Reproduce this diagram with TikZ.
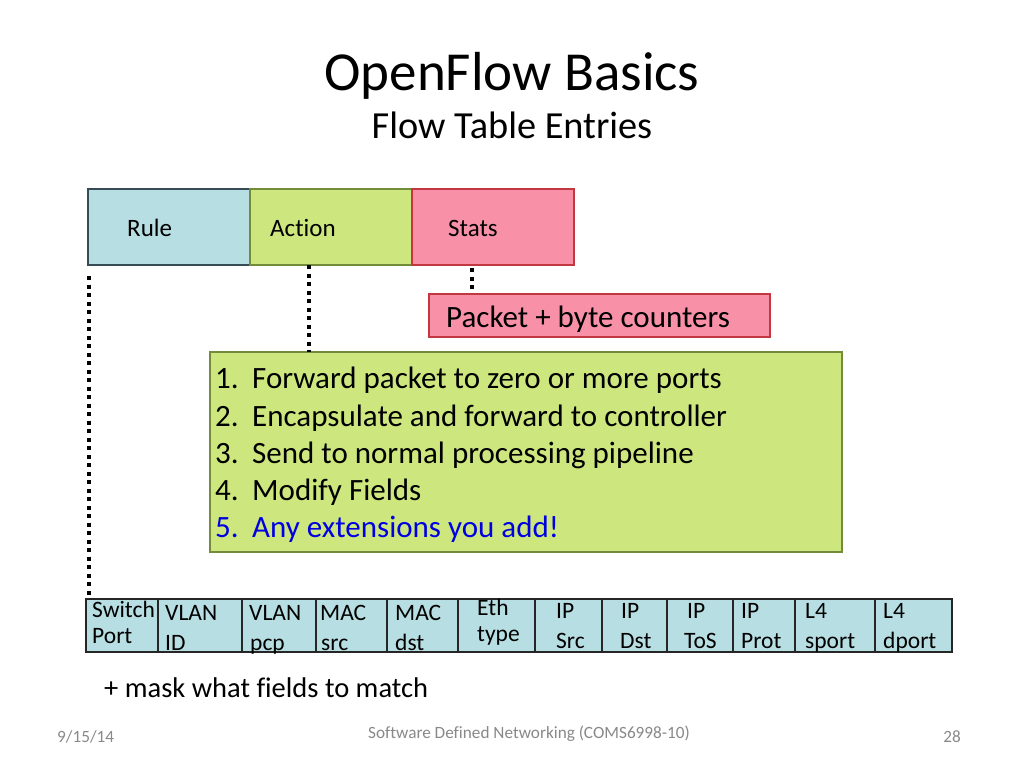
\documentclass[tikz,border=0pt]{standalone}
\usepackage{fontspec}
\setmainfont[Ligatures=NoCommon]{Carlito}
\definecolor{ruleblue}{RGB}{183,222,226}
\definecolor{rulebord}{RGB}{55,75,85}
\definecolor{actgreen}{RGB}{205,231,126}
\definecolor{actbord}{RGB}{115,140,60}
\definecolor{statpink}{RGB}{248,145,168}
\definecolor{statbord}{RGB}{195,55,65}
\definecolor{extblue}{RGB}{0,0,225}
\definecolor{footgray}{RGB}{137,137,137}
\begin{document}
\begin{tikzpicture}[x=1pt,y=-1pt,
  box/.style={draw, line width=1.5pt, anchor=north west, inner sep=0pt, outer sep=0pt},
  bluebox/.style={box, fill=ruleblue, draw=rulebord},
  greenbox/.style={box, fill=actgreen, draw=actbord},
  pinkbox/.style={box, fill=statpink, draw=statbord},
  cell/.style={box, fill=ruleblue, draw=black!85, line width=1.3pt},
  lbl/.style={anchor=base west, inner sep=0pt, font=\fontsize{25}{25}\selectfont},
  big/.style={anchor=base west, inner sep=0pt, font=\fontsize{31}{31}\selectfont},
  ctxt/.style={anchor=base west, inner sep=0pt, font=\fontsize{23.5}{23.5}\selectfont},
  foot/.style={inner sep=0pt, text=footgray, font=\fontsize{17.2}{17.2}\selectfont},
  dots/.style={line width=4pt, dash pattern=on 4pt off 4.5pt}]
\useasboundingbox (0,0) rectangle (1024,768);
\fill[white] (0,0) rectangle (1024,768);

% title
\node[anchor=base, inner sep=0pt, font=\fontsize{55}{55}\selectfont] (title) at (512,90) {OpenFlow Basics};
\node[anchor=base, inner sep=0pt, font=\fontsize{38.3}{38.3}\selectfont] (subtitle) at (512,138) {Flow Table Entries};

% top boxes
\node[bluebox, minimum width=162pt, minimum height=76pt] (rule) at (88,189) {};
\node[greenbox, minimum width=162pt, minimum height=76pt] (action) at (250,189) {};
\node[pinkbox, minimum width=162pt, minimum height=76pt] (stats) at (412,189) {};
\node[lbl] (ruletxt) at (127,236) {Rule};
\node[lbl] (acttxt) at (270,236) {Action};
\node[lbl] (stattxt) at (448,236) {Stats};

% packet box
\node[pinkbox, minimum width=341pt, minimum height=43pt] (packet) at (429,294) {};
\node[big] (packettxt) at (446,327) {Packet + byte counters};

% action list
\node[greenbox, minimum width=632pt, minimum height=200pt] (list) at (210,352) {};
\node[big] (n1) at (215,388) {1.};
\node[big] (t1) at (252,388) {Forward packet to zero or more ports};
\node[big] (n2) at (215,426) {2.};
\node[big] (t2) at (252,426) {Encapsulate and forward to controller};
\node[big] (n3) at (215,463) {3.};
\node[big] (t3) at (252,463) {Send to normal processing pipeline};
\node[big] (n4) at (215,500) {4.};
\node[big] (t4) at (252,500) {Modify Fields};
\node[big, text=extblue] (n5) at (215,537) {5.};
\node[big, text=extblue] (t5) at (252,537) {Any extensions you add!};

% field row
\node[cell, minimum width=72pt, minimum height=53pt] (c1) at (86,599) {};
\node[cell, minimum width=84pt, minimum height=53pt] (c2) at (158,599) {};
\node[cell, minimum width=74pt, minimum height=53pt] (c3) at (242,599) {};
\node[cell, minimum width=71pt, minimum height=53pt] (c4) at (316,599) {};
\node[cell, minimum width=71pt, minimum height=53pt] (c5) at (387,599) {};
\node[cell, minimum width=77pt, minimum height=53pt] (c6) at (458,599) {};
\node[cell, minimum width=67pt, minimum height=53pt] (c7) at (535,599) {};
\node[cell, minimum width=65pt, minimum height=53pt] (c8) at (602,599) {};
\node[cell, minimum width=66pt, minimum height=53pt] (c9) at (667,599) {};
\node[cell, minimum width=62pt, minimum height=53pt] (c10) at (733,599) {};
\node[cell, minimum width=80pt, minimum height=53pt] (c11) at (795,599) {};
\node[cell, minimum width=77pt, minimum height=53pt] (c12) at (875,599) {};

\node[ctxt] (a1) at (92,617) {Switch};  \node[ctxt] (b1) at (92,643) {Port};
\node[ctxt] (a2) at (165,620) {VLAN};   \node[ctxt] (b2) at (165,650) {ID};
\node[ctxt] (a3) at (249,620) {VLAN};   \node[ctxt] (b3) at (250,650) {pcp};
\node[ctxt] (a4) at (320,620) {MAC};    \node[ctxt] (b4) at (321,650) {src};
\node[ctxt] (a5) at (395,620) {MAC};    \node[ctxt] (b5) at (395,650) {dst};
\node[ctxt] (a6) at (477,615) {Eth};    \node[ctxt] (b6) at (477,641) {type};
\node[ctxt] (a7) at (556,618) {IP};     \node[ctxt] (b7) at (556,648) {Src};
\node[ctxt] (a8) at (621,618) {IP};     \node[ctxt] (b8) at (620,648) {Dst};
\node[ctxt] (a9) at (687,618) {IP};     \node[ctxt] (b9) at (684,648) {ToS};
\node[ctxt] (a10) at (741,618) {IP};    \node[ctxt] (b10) at (741,648) {Prot};
\node[ctxt] (a11) at (805,618) {L4};    \node[ctxt] (b11) at (805,648) {sport};
\node[ctxt] (a12) at (883,618) {L4};    \node[ctxt] (b12) at (883,648) {dport};

\node[anchor=base west, inner sep=0pt, font=\fontsize{28.5}{28.5}\selectfont] (mask) at (104,697) {+ mask what fields to match};

% dotted connectors
\coordinate (rs) at ([xshift=1pt,yshift=-11pt]rule.south west);
\coordinate (re) at ([xshift=3pt]c1.north west);
\draw[dots] (rs) -- (rs |- re);
\draw[dots] (action.south -| 309,0) -- (list.north -| 309,0);
\draw[dots] ([yshift=-3pt]stats.south -| 472,0) -- ([yshift=3pt]packet.north -| 472,0);

% footer
\node[foot, anchor=base west] (date) at (57,742) {9/15/14};
\node[foot, anchor=base] (course) at (529,738) {Software Defined Networking (COMS6998-10)};
\node[foot, anchor=base east] (page) at (961,742) {28};
\end{tikzpicture}
\end{document}
